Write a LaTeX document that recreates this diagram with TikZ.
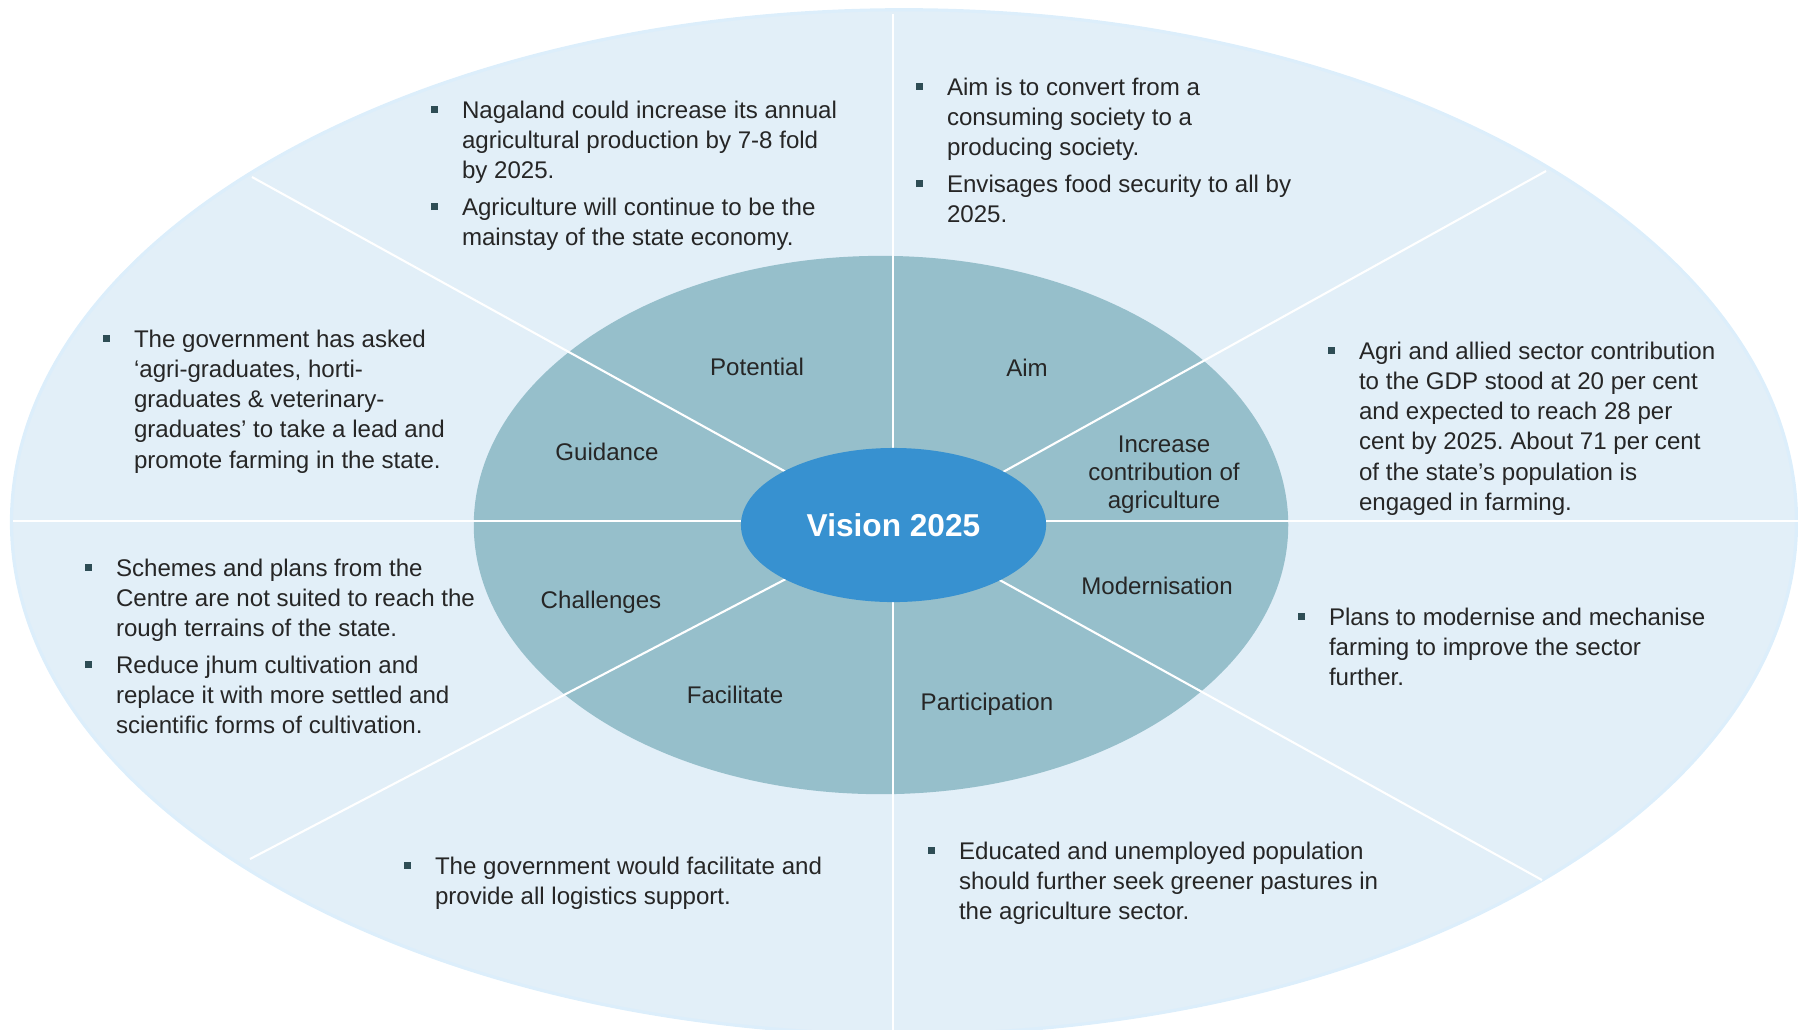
\documentclass[tikz,border=0pt]{standalone}
\usepackage{fontspec}
\setmainfont{Liberation Sans}
\usetikzlibrary{shapes.geometric}
\definecolor{ringout}{HTML}{E2EFF8}
\definecolor{ringedge}{HTML}{DCEEFB}
\definecolor{ringin}{HTML}{96BFCB}
\definecolor{visionblue}{HTML}{3791D0}
\definecolor{txtgray}{HTML}{262626}
\definecolor{bulletcol}{HTML}{2E4D55}
\newcommand{\sqb}{\textcolor{bulletcol}{\rule[1.5pt]{0.068cm}{0.068cm}}}
\frenchspacing

\begin{document}
\begin{tikzpicture}[x=0.01cm, y=-0.01cm,
        lbl/.style={font=\fontsize{6.85}{8}\selectfont, text=txtgray, align=center, inner sep=0pt},
        pts/.style={font=\fontsize{6.85}{8.62}\selectfont, text=txtgray, anchor=base west, inner sep=0pt},
        divider/.style={draw=white, line width=0.6pt}]
        \useasboundingbox (0,0) rectangle (1798,1029);
        \clip (0,0) rectangle (1798,1029);

        \draw[fill=ringout, draw=ringedge, line width=0.9pt] (904,522) ellipse [x radius=8.92cm, y radius=5.12cm];
        \fill[ringin] (881,525) ellipse [x radius=4.07cm, y radius=2.69cm];

        \coordinate (top) at (893,14);
        \coordinate (bot) at (893,1035);
        \coordinate (lft) at (13,521);
        \coordinate (rgt) at (1800,521);
        \coordinate (ul) at (252,177);
        \coordinate (ulc) at (893,531);
        \coordinate (ur) at (1546,171);
        \coordinate (urc) at (893,533);
        \coordinate (ll) at (250,859);
        \coordinate (llc) at (893,523);
        \coordinate (lr) at (1542,880);
        \coordinate (lrc) at (893,521);

        \draw[divider] (top)--(bot);
        \draw[divider] (lft)--(rgt);
        \draw[divider] (ul)--(ulc);
        \draw[divider] (ur)--(urc);
        \draw[divider] (ll)--(llc);
        \draw[divider] (lr)--(lrc);

        \node[ellipse, fill=visionblue, minimum width=3.05cm, minimum height=1.54cm, inner sep=0pt,
              text=white, font=\bfseries\fontsize{9}{11}\selectfont] (vision) at (893.5,525) {Vision 2025};

        \node[lbl, anchor=base] (potential) at (757,375) {Potential};
        \node[lbl, anchor=base] (aim) at (1027,376) {Aim};
        \node[lbl] (increase) at (1164,475) {Increase\\contribution of\\agriculture};
        \node[lbl, anchor=base] (modern) at (1157,594) {Modernisation};
        \node[lbl, anchor=base] (particip) at (987,710) {Participation};
        \node[lbl, anchor=base] (facil) at (735,703) {Facilitate};
        \node[lbl, anchor=base] (challenge) at (601,608) {Challenges};
        \node[lbl, anchor=base] (guidance) at (607,460) {Guidance};

        \node[pts] (potential-txt) at (430,118) {\begin{tabular}[t]{@{}l@{\hspace{0.245cm}}l@{}}
            \sqb & Nagaland could increase its annual\\
                 & agricultural production by 7-8 fold\\
                 & by 2025.\\[1.8pt]
            \sqb & Agriculture will continue to be the\\
                 & mainstay of the state economy.
        \end{tabular}};
        \node[pts] (aim-txt) at (915,95) {\begin{tabular}[t]{@{}l@{\hspace{0.245cm}}l@{}}
            \sqb & Aim is to convert from a\\
                 & consuming society to a\\
                 & producing society.\\[1.8pt]
            \sqb & Envisages food security to all by\\
                 & 2025.
        \end{tabular}};
        \node[pts] (increase-txt) at (1327,359) {\begin{tabular}[t]{@{}l@{\hspace{0.245cm}}l@{}}
            \sqb & Agri and allied sector contribution\\
                 & to the GDP stood at 20 per cent\\
                 & and expected to reach 28 per\\
                 & cent by 2025. About 71 per cent\\
                 & of the state’s population is\\
                 & engaged in farming.
        \end{tabular}};
        \node[pts] (modern-txt) at (1297,625) {\begin{tabular}[t]{@{}l@{\hspace{0.245cm}}l@{}}
            \sqb & Plans to modernise and mechanise\\
                 & farming to improve the sector\\
                 & further.
        \end{tabular}};
        \node[pts] (particip-txt) at (927,859) {\begin{tabular}[t]{@{}l@{\hspace{0.245cm}}l@{}}
            \sqb & Educated and unemployed population\\
                 & should further seek greener pastures in\\
                 & the agriculture sector.
        \end{tabular}};
        \node[pts] (facil-txt) at (403,874) {\begin{tabular}[t]{@{}l@{\hspace{0.245cm}}l@{}}
            \sqb & The government would facilitate and\\
                 & provide all logistics support.
        \end{tabular}};
        \node[pts] (challenge-txt) at (84,576) {\begin{tabular}[t]{@{}l@{\hspace{0.245cm}}l@{}}
            \sqb & Schemes and plans from the\\
                 & Centre are not suited to reach the\\
                 & rough terrains of the state.\\[1.8pt]
            \sqb & Reduce jhum cultivation and\\
                 & replace it with more settled and\\
                 & scientific forms of cultivation.
        \end{tabular}};
        \node[pts] (guidance-txt) at (102,347) {\begin{tabular}[t]{@{}l@{\hspace{0.245cm}}l@{}}
            \sqb & The government has asked\\
                 & ‘agri-graduates, horti-\\
                 & graduates \& veterinary-\\
                 & graduates’ to take a lead and\\
                 & promote farming in the state.
        \end{tabular}};
    \end{tikzpicture}
\end{document}
